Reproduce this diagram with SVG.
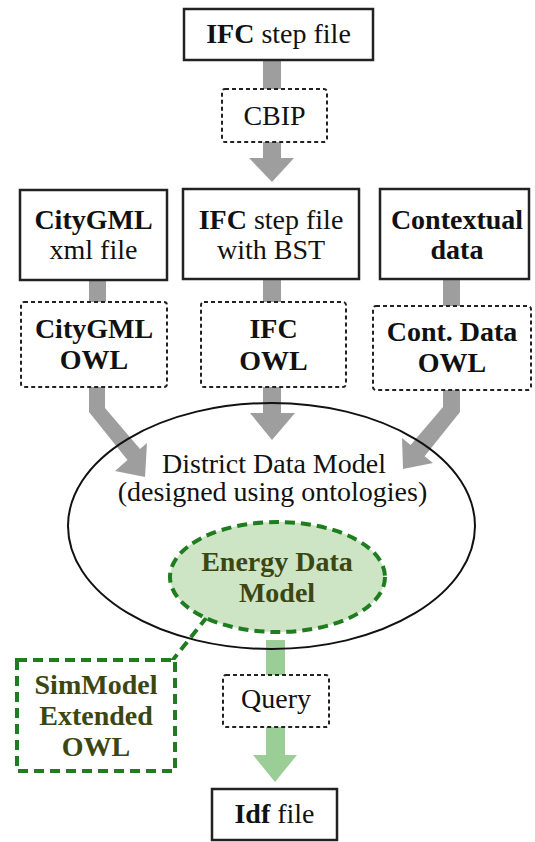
<svg xmlns="http://www.w3.org/2000/svg" width="535" height="842" viewBox="0 0 535 842">
<style>
text{font-family:"Liberation Serif","Times New Roman",serif;font-size:28px;fill:#111;text-anchor:middle}
.b{font-weight:bold}
.g{fill:#3c4612;font-weight:bold}
.solid{fill:#fff;stroke:#222;stroke-width:2.5}
.dot{fill:#fff;stroke:#222;stroke-width:2;stroke-dasharray:4 3}
.gray{fill:#9e9e9e}
.green{fill:#9bcd96}
.gdash{stroke:#1e7d1e;stroke-width:4;stroke-dasharray:10 6}
</style>
<g id="connectors">
<rect class="gray" x="263" y="60" width="18" height="30"/>
<polygon class="gray" points="263,141 281,141 281,158 294,158 272,182 249,158 263,158"/>
<rect class="gray" x="89" y="279" width="17" height="24"/>
<rect class="gray" x="263" y="278" width="18" height="25"/>
<rect class="gray" x="443" y="279" width="17" height="28"/>
<polygon class="gray" points="89,386 105,386 105,408 140,449 147,443 145,477 115,471 127.5,460 89,412"/>
<polygon class="gray" points="263,386 281,386 281,413 295,413 272,440 250,413 263,413"/>
<polygon class="gray" points="443,389 460,389 460,412 424.6,456.3 433,463 403,469 402,438 410.6,445 443,407"/>
<rect class="green" x="266" y="640" width="19" height="36"/>
<polygon class="green" points="266,726 285,726 285,755 297,755 275,782 253,755 266,755"/>
<line class="gdash" x1="207" y1="617" x2="172" y2="661"/>
</g>
<g id="ifc-step">
<rect class="solid" x="184" y="9" width="189" height="51"/>
<text x="278.5" y="43"><tspan class="b">IFC</tspan> step file</text>
</g>
<g id="cbip">
<rect class="dot" x="222" y="89" width="105" height="53" rx="3"/>
<text x="274.5" y="125">CBIP</text>
</g>
<g id="citygml">
<rect class="solid" x="20" y="190" width="147" height="90"/>
<text x="93.5" y="229" class="b">CityGML</text>
<text x="93.5" y="259">xml file</text>
</g>
<g id="ifc-bst">
<rect class="solid" x="183" y="189" width="176" height="90"/>
<text x="271" y="229"><tspan class="b">IFC</tspan> step file</text>
<text x="271" y="259">with BST</text>
</g>
<g id="contextual">
<rect class="solid" x="380" y="189" width="149" height="90"/>
<text x="457" y="229" class="b">Contextual</text>
<text x="457" y="259" class="b">data</text>
</g>
<g id="citygml-owl">
<rect class="dot" x="21" y="302" width="146" height="85" rx="3"/>
<text x="94" y="338" class="b">CityGML</text>
<text x="94" y="369" class="b">OWL</text>
</g>
<g id="ifc-owl">
<rect class="dot" x="201" y="302" width="145" height="85" rx="3"/>
<text x="273.5" y="338" class="b">IFC</text>
<text x="273.5" y="370" class="b">OWL</text>
</g>
<g id="cont-owl">
<rect class="dot" x="373" y="306" width="158" height="84" rx="3"/>
<text x="452" y="341" class="b">Cont. Data</text>
<text x="452" y="372" class="b">OWL</text>
</g>
<g id="district">
<ellipse cx="271.5" cy="526" rx="203.5" ry="123" fill="none" stroke="#111" stroke-width="2"/>
<text x="274" y="473">District Data Model</text>
<text x="272.5" y="501">(designed using ontologies)</text>
</g>
<g id="energy">
<ellipse cx="277.5" cy="577" rx="107.5" ry="55" fill="#cde5c5" class="gdash"/>
<text x="277" y="571" class="g">Energy Data</text>
<text x="277" y="602" class="g">Model</text>
</g>
<g id="simmodel">
<rect x="17" y="660" width="158" height="111" fill="#fff" class="gdash"/>
<text x="96" y="694" class="g">SimModel</text>
<text x="96" y="725" class="g">Extended</text>
<text x="96" y="756" class="g">OWL</text>
</g>
<g id="query">
<rect class="dot" x="223" y="675" width="106" height="52" rx="3"/>
<text x="276" y="708">Query</text>
</g>
<g id="idf">
<rect class="solid" x="212" y="789" width="125" height="51"/>
<text x="274.5" y="823"><tspan class="b">Idf</tspan> file</text>
</g>
</svg>
